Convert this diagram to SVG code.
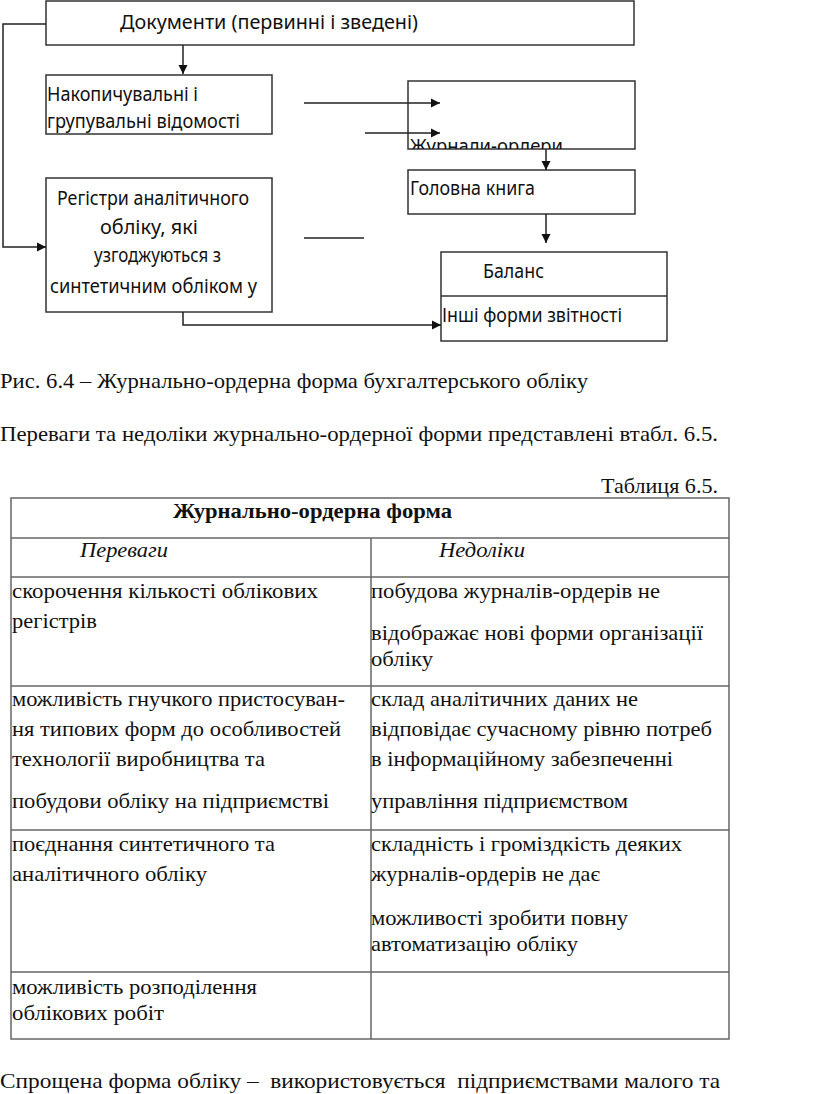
<svg xmlns="http://www.w3.org/2000/svg" width="816" height="1094" viewBox="0 0 816 1094">
<style>
.box{fill:#fff;stroke:#333;stroke-width:1.5}
.dt{font-family:"Noto Sans","Open Sans",sans-serif;font-size:20px;fill:#111}
.ln{fill:none;stroke:#222;stroke-width:1.5}
.tb{fill:none;stroke:#666;stroke-width:1.5}
.tx{font-family:"Liberation Serif","Times New Roman",serif;font-size:22px;fill:#111}
.b{font-weight:bold}
.i{font-style:italic}
</style>
<defs>
<marker id="ah" markerUnits="userSpaceOnUse" markerWidth="10" markerHeight="10" refX="9" refY="5" orient="auto">
<path d="M0,0.5 L9,5 L0,9.5 z" fill="#111"/>
</marker>
<clipPath id="jclip"><rect x="408" y="81" width="227" height="68"/></clipPath>
</defs>

<g id="documents">
<rect class="box" x="46" y="1" width="588" height="44"/>
<text class="dt" x="120" y="29" textLength="298" lengthAdjust="spacingAndGlyphs">Документи (первинні і зведені)</text>
</g>

<g id="accumulative">
<rect class="box" x="46" y="75" width="226" height="59"/>
<text class="dt" x="47" y="101" textLength="151" lengthAdjust="spacingAndGlyphs">Накопичувальні і</text>
<text class="dt" x="47" y="128" textLength="193" lengthAdjust="spacingAndGlyphs">групувальні відомості</text>
</g>

<g id="journals">
<rect class="box" x="408" y="81" width="227" height="68"/>
<text class="dt" x="410" y="153" textLength="153" lengthAdjust="spacingAndGlyphs" clip-path="url(#jclip)">Журнали-ордери</text>
</g>

<g id="ledger">
<rect class="box" x="408" y="170" width="227" height="44"/>
<text class="dt" x="410" y="195" textLength="125" lengthAdjust="spacingAndGlyphs">Головна книга</text>
</g>

<g id="registers">
<rect class="box" x="46" y="178" width="226" height="134"/>
<text class="dt" x="57" y="205" textLength="192" lengthAdjust="spacingAndGlyphs">Регістри аналітичного</text>
<text class="dt" x="100" y="234" textLength="98" lengthAdjust="spacingAndGlyphs">обліку, які</text>
<text class="dt" x="94" y="262" textLength="127" lengthAdjust="spacingAndGlyphs">узгоджуються з</text>
<text class="dt" x="50" y="293" textLength="207" lengthAdjust="spacingAndGlyphs">синтетичним обліком у</text>
</g>

<g id="balance">
<rect class="box" x="441" y="252" width="226" height="89"/>
<line class="box" x1="441" y1="296" x2="667" y2="296"/>
<text class="dt" x="483" y="278" textLength="61" lengthAdjust="spacingAndGlyphs">Баланс</text>
<text class="dt" x="442" y="322" textLength="180" lengthAdjust="spacingAndGlyphs">Інші форми звітності</text>
</g>

<g id="connectors">
<path class="ln" d="M46,24 H3 V247 H46" marker-end="url(#ah)" stroke-width="2"/>
<path class="ln" d="M183,45 V74" marker-end="url(#ah)"/>
<path class="ln" d="M304,103 H440" marker-end="url(#ah)"/>
<path class="ln" d="M365,133 H440" marker-end="url(#ah)"/>
<path class="ln" d="M546,149 V170" marker-end="url(#ah)"/>
<path class="ln" d="M546,214 V243" marker-end="url(#ah)"/>
<path class="ln" d="M304,238 H364"/>
<path class="ln" d="M183,312 V325 H441" marker-end="url(#ah)"/>
</g>

<g id="captions">
<text class="tx" x="0" y="388" textLength="588" lengthAdjust="spacingAndGlyphs">Рис. 6.4 – Журнально-ордерна форма бухгалтерського обліку</text>
<text class="tx" x="0" y="441" textLength="718" lengthAdjust="spacingAndGlyphs">Переваги та недоліки журнально-ордерної форми представлені втабл. 6.5.</text>
<text class="tx" x="601" y="493" textLength="117" lengthAdjust="spacingAndGlyphs">Таблиця 6.5.</text>
<text class="tx" x="0" y="1088" textLength="720" lengthAdjust="spacingAndGlyphs" xml:space="preserve">Спрощена форма обліку –  використовується  підприємствами малого та</text>
</g>

<g id="table">
<rect class="tb" x="11" y="498" width="718" height="541"/>
<line class="tb" x1="11" y1="538" x2="729" y2="538"/>
<line class="tb" x1="11" y1="577" x2="729" y2="577"/>
<line class="tb" x1="11" y1="686" x2="729" y2="686"/>
<line class="tb" x1="11" y1="830" x2="729" y2="830"/>
<line class="tb" x1="11" y1="972" x2="729" y2="972"/>
<line class="tb" x1="371" y1="538" x2="371" y2="1039"/>

<text class="tx b" x="173" y="518" textLength="279" lengthAdjust="spacingAndGlyphs">Журнально-ордерна форма</text>
<text class="tx i" x="80" y="557" textLength="88" lengthAdjust="spacingAndGlyphs">Переваги</text>
<text class="tx i" x="439" y="557" textLength="86" lengthAdjust="spacingAndGlyphs">Недоліки</text>

<text class="tx" x="12" y="598" textLength="306" lengthAdjust="spacingAndGlyphs">скорочення кількості облікових</text>
<text class="tx" x="12" y="628" textLength="85" lengthAdjust="spacingAndGlyphs">регістрів</text>
<text class="tx" x="371" y="598" textLength="289" lengthAdjust="spacingAndGlyphs">побудова журналів-ордерів не</text>
<text class="tx" x="371" y="640" textLength="332" lengthAdjust="spacingAndGlyphs">відображає нові форми організації</text>
<text class="tx" x="371" y="666" textLength="62" lengthAdjust="spacingAndGlyphs">обліку</text>

<text class="tx" x="12" y="706" textLength="333" lengthAdjust="spacingAndGlyphs">можливість гнучкого пристосуван-</text>
<text class="tx" x="12" y="736" textLength="329" lengthAdjust="spacingAndGlyphs">ня типових форм до особливостей</text>
<text class="tx" x="12" y="766" textLength="253" lengthAdjust="spacingAndGlyphs">технології виробництва та</text>
<text class="tx" x="12" y="808" textLength="317" lengthAdjust="spacingAndGlyphs">побудови обліку на підприємстві</text>
<text class="tx" x="371" y="706" textLength="267" lengthAdjust="spacingAndGlyphs">склад аналітичних даних не</text>
<text class="tx" x="371" y="736" textLength="341" lengthAdjust="spacingAndGlyphs">відповідає сучасному рівню потреб</text>
<text class="tx" x="371" y="766" textLength="302" lengthAdjust="spacingAndGlyphs">в інформаційному забезпеченні</text>
<text class="tx" x="371" y="808" textLength="257" lengthAdjust="spacingAndGlyphs">управління підприємством</text>

<text class="tx" x="12" y="851" textLength="263" lengthAdjust="spacingAndGlyphs">поєднання синтетичного та</text>
<text class="tx" x="12" y="881" textLength="195" lengthAdjust="spacingAndGlyphs">аналітичного обліку</text>
<text class="tx" x="371" y="851" textLength="311" lengthAdjust="spacingAndGlyphs">складність і громіздкість деяких</text>
<text class="tx" x="371" y="881" textLength="229" lengthAdjust="spacingAndGlyphs">журналів-ордерів не дає</text>
<text class="tx" x="371" y="925" textLength="257" lengthAdjust="spacingAndGlyphs">можливості зробити повну</text>
<text class="tx" x="371" y="951" textLength="207" lengthAdjust="spacingAndGlyphs">автоматизацію обліку</text>

<text class="tx" x="12" y="994" textLength="245" lengthAdjust="spacingAndGlyphs">можливість розподілення</text>
<text class="tx" x="12" y="1020" textLength="152" lengthAdjust="spacingAndGlyphs">облікових робіт</text>
</g>
</svg>
